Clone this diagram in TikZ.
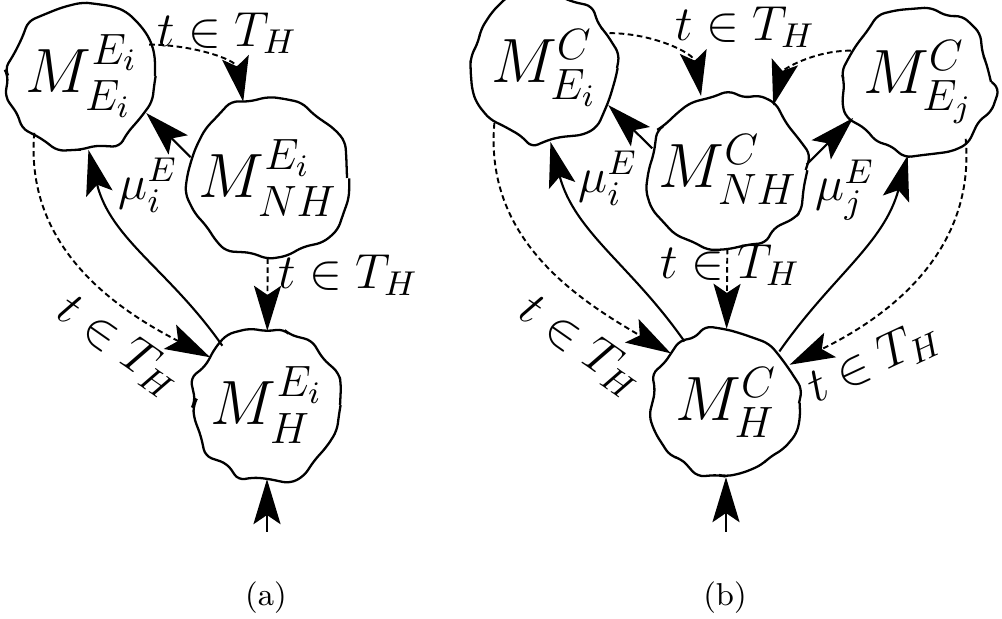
\RequirePackage{fix-cm}
\documentclass[tikz,border=0pt]{standalone}
\usepackage{amsmath,amssymb}
\usepackage{tikz}
\usetikzlibrary{arrows.meta, decorations.pathmorphing}

\begin{document}
\begin{tikzpicture}[
    x=0.01cm, y=0.01cm,
    blob/.style={circle, draw, line width=0.65pt, minimum size=1.46cm, inner sep=0pt,
        decorate, decoration={random steps, segment length=5pt, amplitude=1.6pt},
        rounded corners=2pt, font=\fontsize{17.8}{21}\selectfont},
    lbl/.style={font=\fontsize{14}{17}\selectfont, inner sep=0pt},
    arrow/.style={-{Stealth[length=12.8pt, width=7.7pt, inset=2.6pt]}, line width=0.6pt},
    darrow/.style={arrow, line width=0.55pt, dash pattern=on 1.6pt off 1pt},
]
\pgfmathsetseed{11}
\useasboundingbox (0,0) rectangle (1002,619);

% (a) nodes
\node[blob] (eei) at (82,543) {$M_{E_i}^{E_i}$};
\node[blob] (nha) at (268,441) {$M_{NH}^{E_i}$};
\node[blob] (ha) at (267,214) {$M_{H}^{E_i}$};
\coordinate (ina) at (267,87);
\node[font=\small] (capa) at (266,21) {(a)};

% (b) nodes
\node[blob] (ei) at (544,551) {$M_{E_i}^{C}$};
\node[blob] (nhb) at (728,449) {$M_{NH}^{C}$};
\node[blob] (ej) at (918,537) {$M_{E_j}^{C}$};
\node[blob] (hb) at (726,216) {$M_{H}^{C}$};
\coordinate (inb) at (726,87);
\node[font=\small] (capb) at (725,21) {(b)};

% (a) arrows
\draw[darrow] (eei.25) to[out=0, in=100] (nha.108);
\node[lbl] at (227,586) {$t\in T_H$};
\draw[arrow] (nha.165) -- (eei.-30);
\node[lbl] at (148,434) {$\mu_i^E$};
\draw[arrow] (ha.127) to[out=125, in=-76] (eei.-85);
\draw[darrow] (eei.-130) to[out=-95, in=153] (ha.140);
\node[lbl, rotate=-35] at (119,273) {$t\in T_H$};
\draw[darrow] (nha) -- (ha);
\node[lbl] at (348,344) {$t\in T_H$};
\draw[arrow] (ina) -- (ha);

% (b) arrows
\draw[darrow] (ei.28) to[out=0, in=100] (nhb.110);
\draw[darrow] (ej.155) to[out=180, in=75] (nhb.55);
\node[lbl] at (745,592) {$t\in T_H$};
\draw[arrow] (nhb.164) -- (ei.-30);
\draw[arrow] (nhb.4) -- (ej.-151);
\node[lbl] at (608,441) {$\mu_i^E$};
\node[lbl] at (845,429) {$\mu_j^E$};
\draw[arrow] (hb.124) to[out=125, in=-75] (ei.-85);
\draw[arrow] (hb.44) to[out=55, in=-105] (ej.-98);
\draw[darrow] (ei.-132) to[out=-95, in=150] (hb.138);
\draw[darrow] (ej.-50) to[out=-85, in=26] (hb.31);
\node[lbl, rotate=-35] at (581,273) {$t\in T_H$};
\node[lbl, rotate=25] at (874,257) {$t\in T_H$};
\draw[darrow] (nhb) -- (hb);
\node[lbl] at (730,354) {$t\in T_H$};
\draw[arrow] (inb) -- (hb);

\end{tikzpicture}
\end{document}
